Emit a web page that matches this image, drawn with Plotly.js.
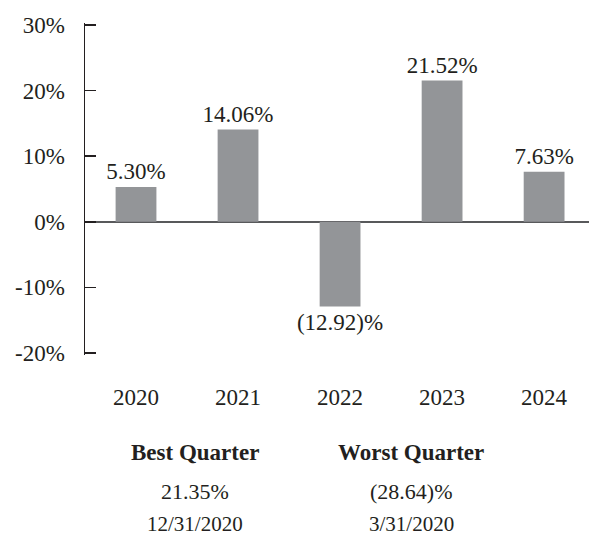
<!DOCTYPE html>
<html>
<head>
<meta charset="utf-8">
<script src="https://cdn.plot.ly/plotly-3.0.1.min.js"></script>
<style>html,body{margin:0;padding:0;background:#fff;}#chart{width:589px;height:539px;}</style>
</head>
<body>
<div id="chart"></div>
<script>
var years = ['2020', '2021', '2022', '2023', '2024'];
var annualReturns = [5.30, 14.06, -12.92, 21.52, 7.63];
var yTickValues = [-20, -10, 0, 10, 20, 30];
var quarterHeadings = ['Best Quarter', 'Worst Quarter'];
var quarterReturns = [21.35, -28.64];
var quarterDates = ['12/31/2020', '3/31/2020'];

function fmtPct(v) {
  return v < 0 ? '(' + Math.abs(v).toFixed(2) + ')%' : v.toFixed(2) + '%';
}

var FONT = 'Liberation Serif, Times New Roman, serif';
var INK = '#231f20';

var trace = {
  type: 'bar',
  x: years,
  y: annualReturns,
  text: annualReturns.map(fmtPct),
  textposition: 'outside',
  constraintext: 'none',
  textfont: {family: FONT, size: 23, color: INK},
  outsidetextfont: {family: FONT, size: 23, color: INK},
  cliponaxis: false,
  marker: {color: '#939598'},
  hoverinfo: 'none'
};

// plot area: 23px .. 355px, y range padded so end ticks are drawn
var plotTop = 23, plotBottom = 355;
var plotH = plotBottom - plotTop;
function paperY(px) { return (plotBottom - px) / plotH; }

var quarterX = [0.218, 0.647];
var annotations = [];
for (var i = 0; i < quarterHeadings.length; i++) {
  annotations.push({xref: 'paper', yref: 'paper', x: quarterX[i], y: paperY(452), xanchor: 'center', yanchor: 'middle',
    text: '<b>' + quarterHeadings[i] + '</b>', showarrow: false, borderpad: 0, font: {family: FONT, size: 23, color: INK}});
  annotations.push({xref: 'paper', yref: 'paper', x: quarterX[i], y: paperY(491), xanchor: 'center', yanchor: 'middle',
    text: fmtPct(quarterReturns[i]), showarrow: false, borderpad: 0, font: {family: FONT, size: 22, color: INK}});
  annotations.push({xref: 'paper', yref: 'paper', x: quarterX[i], y: paperY(524), xanchor: 'center', yanchor: 'middle',
    text: quarterDates[i], showarrow: false, borderpad: 0, font: {family: FONT, size: 21, color: INK}});
}

var layout = {
  width: 589, height: 539,
  margin: {l: 85, r: 0, t: plotTop, b: 539 - plotBottom, pad: 0},
  paper_bgcolor: '#fff', plot_bgcolor: '#fff',
  showlegend: false,
  bargap: 0.6,
  font: {family: FONT, color: INK},
  xaxis: {
    type: 'category',
    range: [-0.5, 4.44],
    showline: false, showgrid: false, zeroline: false,
    ticks: '',
    tickfont: {family: FONT, size: 23, color: INK},
    ticklabelstandoff: 26,
    fixedrange: true
  },
  yaxis: {
    range: [-20.3, 30.3],
    showline: true, linecolor: INK, linewidth: 1.5,
    showgrid: false,
    zeroline: true, zerolinecolor: '#58595b', zerolinewidth: 1.5,
    ticks: 'inside', ticklen: 11, tickwidth: 1.5, tickcolor: INK,
    tickvals: yTickValues,
    ticktext: yTickValues.map(function (v) { return v + '%'; }),
    tickfont: {family: FONT, size: 23, color: INK},
    ticklabelstandoff: 14,
    fixedrange: true
  },
  annotations: annotations
};

Plotly.newPlot('chart', [trace], layout, {displayModeBar: false, staticPlot: true});
</script>
</body>
</html>
